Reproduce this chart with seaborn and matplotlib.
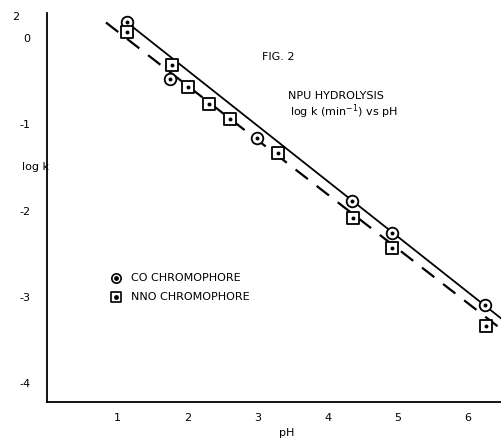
import numpy as np
import pandas as pd
import matplotlib
matplotlib.use('Agg')
import matplotlib.pyplot as plt
import seaborn as sns

sns.set_style('white')
plt.rcParams['font.family'] = ['DejaVu Sans']
plt.rcParams['axes.unicode_minus'] = False
plt.rcParams['text.color'] = 'black'
plt.rcParams['xtick.color'] = 'black'
plt.rcParams['ytick.color'] = 'black'

# pH vs log k
co_ph = [1.14, 1.76, 2.99, 4.34, 4.91, 6.24]
co_logk = [0.19, -0.48, -1.16, -1.89, -2.26, -3.10]
nno_ph = [1.14, 1.78, 2.01, 2.31, 2.61, 3.29, 4.36, 4.91, 6.26]
nno_logk = [0.07, -0.31, -0.57, -0.77, -0.94, -1.33, -2.09, -2.44, -3.34]

co_line_ph = [1.14, 6.47]
co_line_logk = [0.18, -3.25]
nno_line_ph = [0.84, 6.45]
nno_line_logk = [0.18, -3.36]

xticks = [1, 2, 3, 4, 5, 6]
yticks = [0, -1, -2, -3, -4]

co = pd.DataFrame({'pH': co_ph, 'logk': co_logk})
nno = pd.DataFrame({'pH': nno_ph, 'logk': nno_logk})

fig = plt.figure(figsize=(5.01, 4.42), dpi=100)
ax = fig.add_axes([47 / 501, 40 / 442, 454 / 501, 389 / 442])

sns.lineplot(x=co_line_ph, y=co_line_logk, color='black', lw=1.3, ax=ax)
sns.lineplot(x=nno_line_ph, y=nno_line_logk, color='black', lw=1.6, ax=ax,
             linestyle='--')
ax.lines[-1].set_dashes((7, 5))

# markers with a dot in the middle
sns.scatterplot(data=co, x='pH', y='logk', marker='o', s=70, facecolor='white',
                edgecolor='black', linewidth=1.3, ax=ax, zorder=3)
sns.scatterplot(data=co, x='pH', y='logk', marker='o', s=8, color='black',
                linewidth=0, ax=ax, zorder=4)
sns.scatterplot(data=nno, x='pH', y='logk', marker='s', s=70, facecolor='white',
                edgecolor='black', linewidth=1.3, ax=ax, zorder=3)
sns.scatterplot(data=nno, x='pH', y='logk', marker='o', s=8, color='black',
                linewidth=0, ax=ax, zorder=4)

ax.set_xlim(0, 6.47)
ax.set_ylim(-4.22, 0.29)
ax.set_xticks(xticks)
ax.set_xticklabels([str(t) for t in xticks])
ax.set_yticks(yticks)
ax.set_yticklabels([str(t) for t in yticks])
ax.tick_params(direction='in', length=6, width=1, labelsize=8, pad=8)
ax.tick_params(axis='y', pad=12)
for s in ['top', 'right']:
    ax.spines[s].set_visible(False)
for s in ['left', 'bottom']:
    ax.spines[s].set_linewidth(1.3)
    ax.spines[s].set_color('black')
ax.set_xlabel('')
ax.set_ylabel('')

fig.text(22 / 501, 1 - 167 / 442, 'log k', fontsize=8, ha='left', va='center')
fig.text(287 / 501, 1 - 433 / 442, 'pH', fontsize=8, ha='center', va='center')
fig.text(16 / 501, 1 - 17 / 442, '2', fontsize=8, ha='center', va='center')
fig.text(262 / 501, 1 - 57 / 442, 'FIG. 2', fontsize=8, ha='left', va='center')
fig.text(288 / 501, 1 - 96 / 442, 'NPU HYDROLYSIS', fontsize=8, ha='left', va='center')
fig.text(290 / 501, 1 - 112 / 442, 'log k (min$^{-1}$) vs pH', fontsize=8,
         ha='left', va='center')

# legend drawn by hand
ax.scatter([0.98], [-2.78], marker='o', s=45, facecolor='white', edgecolor='black', lw=1.2)
ax.scatter([0.98], [-2.78], marker='o', s=6, color='black')
ax.scatter([0.98], [-3.00], marker='s', s=45, facecolor='white', edgecolor='black', lw=1.2)
ax.scatter([0.98], [-3.00], marker='o', s=6, color='black')
ax.text(1.2, -2.78, 'CO CHROMOPHORE', fontsize=8, va='center')
ax.text(1.2, -3.00, 'NNO CHROMOPHORE', fontsize=8, va='center')

fig.savefig('out.png', dpi=100)
